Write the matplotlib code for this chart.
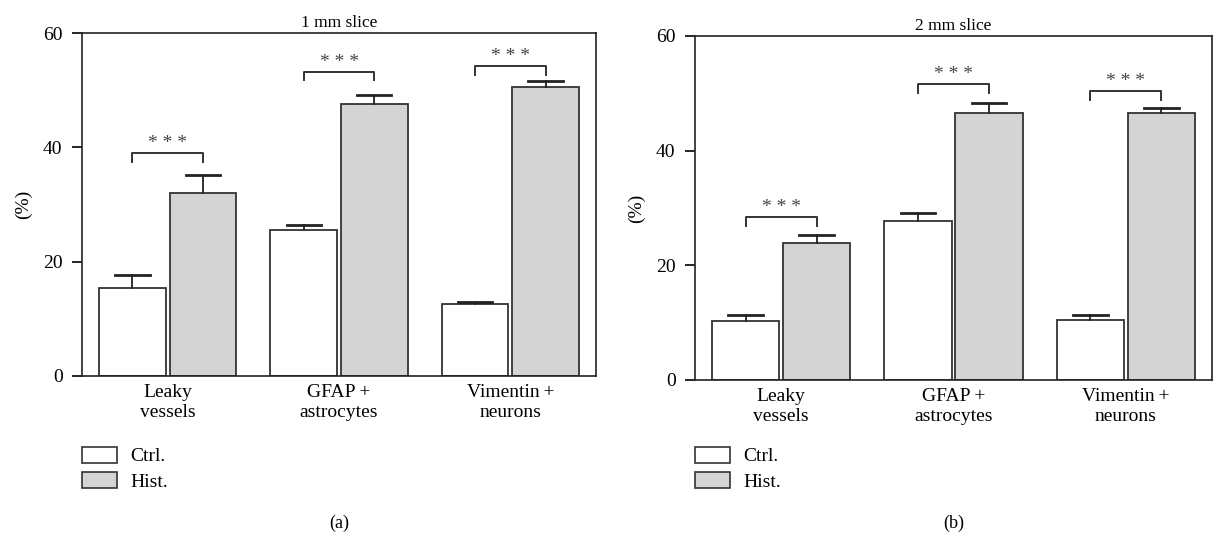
import numpy as np
import matplotlib
matplotlib.use("Agg")
import matplotlib.pyplot as plt
from matplotlib.patches import Patch

plt.rcParams['font.family'] = ['Liberation Serif', 'DejaVu Serif']

categories = ["Leaky\nvessels", "GFAP\u2009+\nastrocytes", "Vimentin\u2009+\nneurons"]

# 1 mm slice
ctrl_1mm = [15.4, 25.5, 12.6]
ctrl_1mm_err = [2.3, 0.9, 0.3]
hist_1mm = [32.0, 47.6, 50.6]
hist_1mm_err = [3.2, 1.6, 1.0]
brk_1mm = [39.0, 53.2, 54.2]

# 2 mm slice
ctrl_2mm = [10.3, 27.7, 10.5]
ctrl_2mm_err = [1.0, 1.4, 0.8]
hist_2mm = [23.9, 46.6, 46.6]
hist_2mm_err = [1.4, 1.7, 0.8]
brk_2mm = [28.4, 51.6, 50.4]

titles = ["1 mm slice", "2 mm slice"]
panels = ["(a)", "(b)"]

W, H = 1215, 538
fig = plt.figure(figsize=(W / 100, H / 100), dpi=100)

# axes boxes in pixels: left, top, right, bottom
boxes = [(82, 33, 596, 376), (695, 36, 1212, 380)]
data = [(ctrl_1mm, ctrl_1mm_err, hist_1mm, hist_1mm_err, brk_1mm),
        (ctrl_2mm, ctrl_2mm_err, hist_2mm, hist_2mm_err, brk_2mm)]

edge = "#333333"
gray = "#d4d4d4"
width = 0.39
off = 0.206

for i in range(2):
	l, t, r, b = boxes[i]
	ax = fig.add_axes([l / W, 1 - b / H, (r - l) / W, (b - t) / H])
	ctrl, cerr, hist, herr, brk = data[i]
	x = np.arange(len(categories))

	ax.bar(x - off, ctrl, width, color="white", edgecolor=edge, linewidth=1.3, zorder=2)
	ax.bar(x + off, hist, width, color=gray, edgecolor=edge, linewidth=1.3, zorder=2)

	# upper error bars only
	for xs, vals, errs in [(x - off, ctrl, cerr), (x + off, hist, herr)]:
		for xx, v, e in zip(xs, vals, errs):
			ax.plot([xx, xx], [v, v + e], color="#222222", lw=1.3, zorder=3)
			ax.plot([xx - 0.1, xx + 0.1], [v + e, v + e], color="#222222", lw=2.0, zorder=3)

	# significance brackets
	for j in range(len(categories)):
		y = brk[j]
		x0, x1 = x[j] - off, x[j] + off
		ax.plot([x0, x0, x1, x1], [y - 1.5, y, y, y - 1.5], color="#333333", lw=1.4)
		ax.text(x[j], y + 0.2, "* * *", ha="center", va="bottom", fontsize=14, color="#444444")

	ax.set_xlim(-0.5, 2.5)
	ax.set_ylim(0, 60)
	ax.set_yticks([0, 20, 40, 60])
	ax.set_xticks(x)
	ax.set_xticklabels(categories, fontsize=14, linespacing=1.2)
	ax.tick_params(axis="x", length=0, pad=6)
	ax.tick_params(axis="y", direction="out", length=7, width=1.2, labelsize=14, pad=7)
	for s in ax.spines.values():
		s.set_linewidth(1.2)
		s.set_color("#222222")
	ax.set_ylabel("(%)", fontsize=14, labelpad=8)
	ax.set_title(titles[i], fontsize=12.5, pad=4)

	handles = [Patch(facecolor="white", edgecolor=edge, linewidth=1.2, label="Ctrl."),
	           Patch(facecolor=gray, edgecolor=edge, linewidth=1.2, label="Hist.")]
	ax.legend(handles=handles, loc="upper left", bbox_to_anchor=(l / W, 1 - 447 / H),
	          bbox_transform=fig.transFigure, frameon=False, fontsize=14,
	          borderpad=0, borderaxespad=0, handlelength=1.8, handleheight=0.85,
	          handletextpad=0.7, labelspacing=0.35)

	fig.text((l + r) / 2 / W, 1 - 523 / H, panels[i], ha="center", va="center", fontsize=13)

fig.savefig("out.png", dpi=100)
